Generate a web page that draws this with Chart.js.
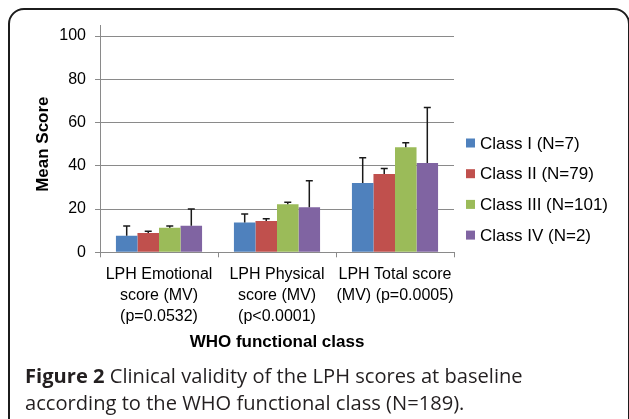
<!DOCTYPE html>
<html>
<head>
<meta charset="utf-8">
<script src="https://cdn.jsdelivr.net/npm/chart.js@4"></script>
<style>
  html, body { margin: 0; padding: 0; background: #fff; }
  body { width: 629px; height: 419px; overflow: hidden; position: relative; }
  #frame {
    position: absolute; left: 8px; top: 8px; width: 622px; height: 480px;
    border: 2px solid #1c1c1c; border-radius: 16px; box-sizing: border-box;
  }
  #chart { position: absolute; left: 0; top: 0; }
  .cap {
    position: absolute; left: 25px; font-family: "Open Sans", "Noto Sans", sans-serif;
    font-size: 20px; color: #231f20; white-space: nowrap; transform-origin: 0 50%;
  }
  .cap b { font-weight: 700; }
</style>
</head>
<body>
<div id="frame"></div>
<canvas id="chart" width="629" height="419"></canvas>
<div class="cap" id="cap1" style="top:362px"><b>Figure 2</b> Clinical validity of the LPH scores at baseline</div>
<div class="cap" id="cap2" style="top:389px">according to the WHO functional class (N=189).</div>
<script>
// data
const categories = [
    ['LPH Emotional', 'score (MV)', '(p=0.0532)'],
    ['LPH Physical', 'score (MV)', '(p<0.0001)'],
    ['LPH Total score', '(MV) (p=0.0005)']
];
const seriesLabels = ['Class I (N=7)', 'Class II (N=79)', 'Class III (N=101)', 'Class IV (N=2)'];
const seriesColors = ['#4F81BD', '#C0504D', '#9BBB59', '#8064A2'];
const classI = [7.7, 13.8, 32.0];
const classII = [8.9, 14.5, 36.2];
const classIII = [11.4, 22.2, 48.6];
const classIV = [12.3, 20.8, 41.3];
const errI = [4.5, 3.9, 11.7];
const errII = [0.8, 1.0, 2.5];
const errIII = [0.8, 0.9, 2.1];
const errIV = [7.7, 12.3, 25.6];
const yTicks = [0, 20, 40, 60, 80, 100];

const values = [classI, classII, classIII, classIV];
const errors = [errI, errII, errIII, errIV];

const gridColor = '#8a8a8a';
const font = 'Liberation Sans, Arial, sans-serif';

// plus-only error bars with a cap
const errorBars = {
    id: 'errorBars',
    afterDatasetsDraw(chart) {
        const ctx = chart.ctx;
        const yScale = chart.scales.y;
        ctx.save();
        ctx.strokeStyle = '#1a1a1a';
        ctx.lineWidth = 1.5;
        chart.data.datasets.forEach((ds, i) => {
            const meta = chart.getDatasetMeta(i);
            meta.data.forEach((bar, j) => {
                const top = yScale.getPixelForValue(ds.data[j] + ds.errors[j]);
                ctx.beginPath();
                ctx.moveTo(bar.x, bar.y);
                ctx.lineTo(bar.x, top);
                ctx.moveTo(bar.x - 3.5, top);
                ctx.lineTo(bar.x + 3.5, top);
                ctx.stroke();
            });
        });
        ctx.restore();
    }
};

// y axis line runs a little above the top gridline, as in Excel
const axisExtra = {
    id: 'axisExtra',
    beforeDatasetsDraw(chart) {
        const ctx = chart.ctx;
        const a = chart.chartArea;
        ctx.save();
        ctx.strokeStyle = gridColor;
        ctx.lineWidth = 1;
        ctx.beginPath();
        ctx.moveTo(a.left + 0.5, a.top - 11);
        ctx.lineTo(a.left + 0.5, a.top);
        ctx.stroke();
        ctx.restore();
    }
};

// legend at the right of the plot
const sideLegend = {
    id: 'sideLegend',
    afterDraw(chart) {
        const ctx = chart.ctx;
        ctx.save();
        ctx.font = '17px ' + font;
        ctx.textBaseline = 'middle';
        chart.data.datasets.forEach((ds, i) => {
            const y = 143 + i * 30.7;
            ctx.fillStyle = ds.backgroundColor;
            ctx.fillRect(466, y - 4.5, 9, 9);
            ctx.fillStyle = '#000';
            ctx.fillText(ds.label, 480, y + 1);
        });
        ctx.restore();
    }
};

new Chart(document.getElementById('chart'), {
    type: 'bar',
    data: {
        labels: categories,
        datasets: values.map((v, i) => ({
            label: seriesLabels[i],
            data: v,
            errors: errors[i],
            backgroundColor: seriesColors[i],
            borderWidth: 0,
            categoryPercentage: 0.73,
            barPercentage: 1
        }))
    },
    options: {
        responsive: false,
        animation: false,
        devicePixelRatio: 1,
        layout: { padding: { left: 20, right: 175, top: 36, bottom: 60 } },
        plugins: {
            legend: { display: false },
            tooltip: { enabled: false }
        },
        scales: {
            x: {
                grid: { display: true, offset: true, drawOnChartArea: false, drawTicks: true, tickLength: 5, color: gridColor },
                border: { display: true, color: gridColor },
                ticks: { color: '#000', font: { family: font, size: 16, lineHeight: 1.3 }, padding: 7, maxRotation: 0, autoSkip: false },
                title: { display: true, text: 'WHO functional class', color: '#000', font: { family: font, size: 17, weight: 'bold' }, padding: { top: 0, bottom: 6 } },
                afterFit(scale) { scale.height = 419 - 60 - 252.3; }
            },
            y: {
                min: 0,
                max: 100,
                afterBuildTicks(scale) { scale.ticks = yTicks.map(v => ({ value: v })); },
                grid: { color: gridColor, tickLength: 5, drawTicks: true },
                border: { display: true, color: gridColor },
                ticks: { color: '#000', font: { family: font, size: 16 }, padding: 9 },
                title: { display: true, text: 'Mean Score', color: '#000', font: { family: font, size: 17, weight: 'bold' }, padding: { top: 13, bottom: 0 } },
                afterFit(scale) { scale.width = 100 - 20; }
            }
        }
    },
    plugins: [errorBars, axisExtra, sideLegend]
});

// fit caption lines to the reference width
const cap1 = document.getElementById('cap1');
const cap2 = document.getElementById('cap2');
const k = 498 / cap1.scrollWidth;
cap1.style.transform = 'scaleX(' + k + ')';
cap2.style.transform = 'scaleX(' + k + ')';
</script>
</body>
</html>
